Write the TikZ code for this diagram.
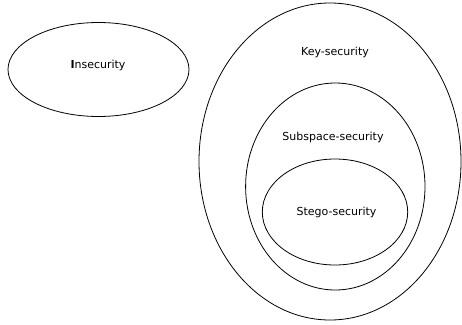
\documentclass[tikz,border=0pt]{standalone}
\usepackage{fontspec}
\setmainfont{DejaVu Sans}
\begin{document}
\begin{tikzpicture}[x=1pt,y=-1pt,
  set/.style={draw=black,line width=0.8pt},
  lbl/.style={font=\fontsize{11}{13}\selectfont,inner sep=0pt}]
\useasboundingbox (0,0) rectangle (462,324);
% security notions as nested sets
\draw[set] (98.5,69.5) ellipse [x radius=90.5, y radius=47];
\draw[set] (330,161.5) ellipse [x radius=131, y radius=158.5];
\draw[set] (335.3,186.5) ellipse [x radius=89.7, y radius=103.5];
\draw[set] (335,212) ellipse [x radius=72.7, y radius=53];
% labels
\node[lbl] (insec) at (98,65) {\textbf{I}nsecurity};
\node[lbl] (key) at (335,52) {Key-security};
\node[lbl] (sub) at (333,137) {Subspace-security};
\node[lbl] (stego) at (336.5,212) {Stego-security};
\end{tikzpicture}
\end{document}
